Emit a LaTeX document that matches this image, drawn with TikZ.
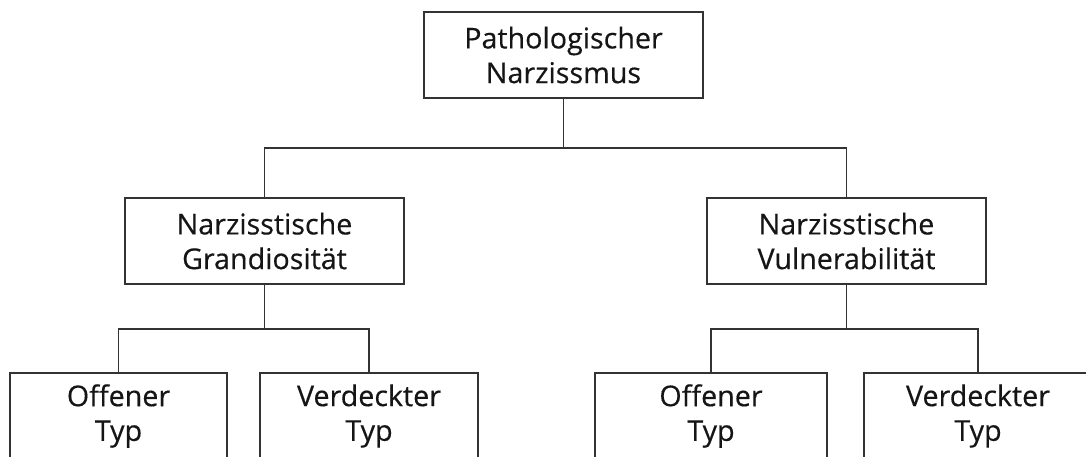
\documentclass[tikz,border=0pt]{standalone}
\usepackage{fontspec}
\setmainfont{Open Sans}[FakeBold=0.4]
\definecolor{linec}{HTML}{333333}
\definecolor{textc}{HTML}{151515}
\begin{document}
\begin{tikzpicture}[x=0.75pt,y=-0.75pt,
  box/.style={draw=linec,line width=1.3pt,rectangle,align=center,text=textc,
    minimum height=64.5pt,inner sep=0pt,
    font=\fontsize{21.5}{26}\selectfont},
  conn/.style={draw=linec,line width=1.3pt}]
\useasboundingbox (0,0) rectangle (1086,457);
\node[box,minimum width=209.25pt] (top) at (563.5,55) {Pathologischer\\Narzissmus};
\node[box,minimum width=209.25pt] (gl) at (264.5,241) {Narzisstische\\Grandiosität};
\node[box,minimum width=209.25pt] (vr) at (846.5,241) {Narzisstische\\Vulnerabilität};
\node[box,minimum width=163pt] (b1) at (118.5,416) {Offener\\Typ};
\node[box,minimum width=163.5pt] (b2) at (369,416) {Verdeckter\\Typ};
\node[box,minimum width=174pt] (b3) at (711,416) {Offener\\Typ};
\node[box,minimum width=171pt] (b4) at (978,416) {Verdeckter\\Typ};
\draw[conn] (top.south) -- (top.south |- 0,148) coordinate (t1);
\draw[conn] (gl.north) |- (t1) -| (vr.north);
\draw[conn] (gl.south) -- (gl.south |- 0,329) coordinate (g1);
\draw[conn] (b1.north) |- (g1) -| (b2.north);
\draw[conn] (vr.south) -- (vr.south |- 0,329) coordinate (v1);
\draw[conn] (b3.north) |- (v1) -| (b4.north);
\end{tikzpicture}
\end{document}
